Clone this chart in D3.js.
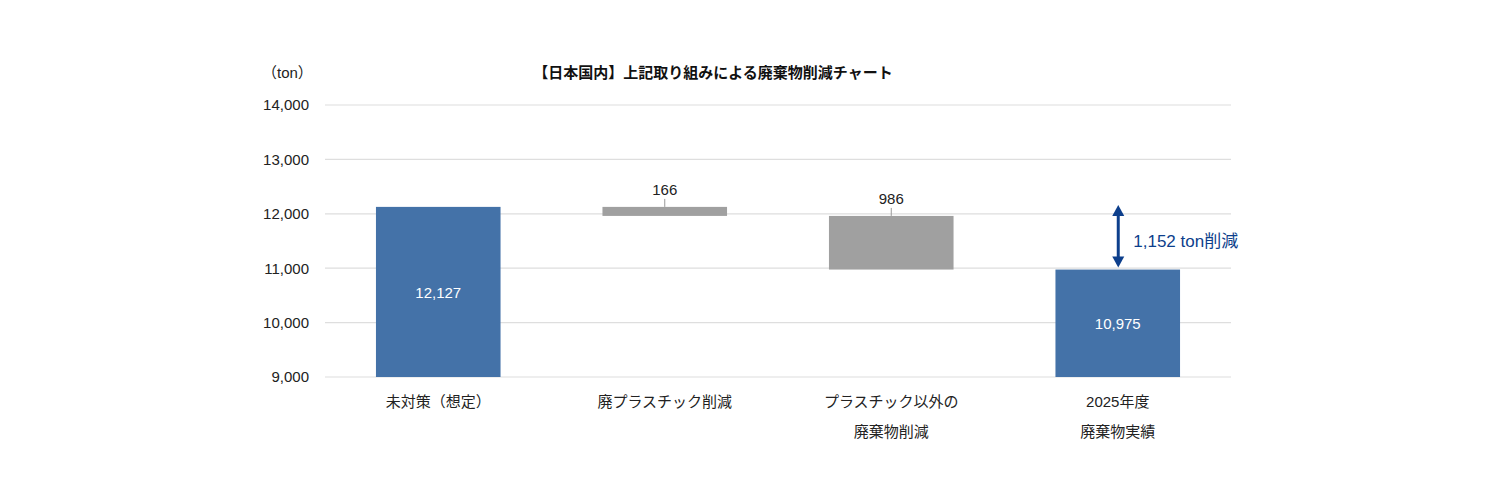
<!DOCTYPE html>
<html>
<head>
<meta charset="utf-8">
<script src="https://cdn.jsdelivr.net/npm/d3@7"></script>
<style>
  body { margin: 0; background: #fff; }
  svg text { font-family: "Liberation Sans", "Noto Sans CJK JP", sans-serif; }
</style>
</head>
<body>
<div id="chart-container"></div>
<script>
const categories = ["未対策（想定）", "廃プラスチック削減", "プラスチック以外の\n廃棄物削減", "2025年度\n廃棄物実績"];
const bases = [9000, 11961, 10975, 9000];
const tops = [12127, 12127, 11961, 10975];
const labels = ["12,127", "166", "986", "10,975"];
const kinds = ["total", "delta", "delta", "total"];
const yTicks = [9000, 10000, 11000, 12000, 13000, 14000];
const reductionText = "1,152 ton削減";

const svgWidth = 1500;
const svgHeight = 499;
const margin = { top: 105, right: 269, bottom: 122, left: 325 };
const width = svgWidth - margin.left - margin.right;
const height = svgHeight - margin.top - margin.bottom;

const svg = d3.select("#chart-container")
    .append("svg")
    .attr("width", svgWidth)
    .attr("height", svgHeight);

const chart = svg.append("g")
    .attr("transform", `translate(${margin.left},${margin.top})`);

const scaleX = d3.scaleBand()
    .domain(categories)
    .range([0, width])
    .paddingInner(0.45)
    .paddingOuter(0.225);

const scaleY = d3.scaleLinear()
    .domain([9000, 14000])
    .range([height, 0]);

// gridlines
chart.selectAll(".grid")
    .data(yTicks)
    .enter()
    .append("line")
    .attr("x1", 0)
    .attr("x2", width)
    .attr("y1", d => scaleY(d))
    .attr("y2", d => scaleY(d))
    .attr("stroke", "#dedede")
    .attr("stroke-width", 1.2);

const yAxis = chart.append("g")
    .call(d3.axisLeft(scaleY).tickValues(yTicks).tickFormat(d3.format(",")).tickSize(0).tickPadding(16));
yAxis.select(".domain").remove();
yAxis.selectAll("text").attr("font-size", "15px").attr("fill", "#222");

// bars
chart.selectAll(".bar")
    .data(categories)
    .enter()
    .append("rect")
    .attr("x", d => scaleX(d))
    .attr("y", (d, i) => scaleY(tops[i]))
    .attr("width", scaleX.bandwidth())
    .attr("height", (d, i) => scaleY(bases[i]) - scaleY(tops[i]))
    .attr("fill", (d, i) => kinds[i] === "total" ? "#4472a8" : "#a0a0a0");

// labels inside totals
chart.selectAll(".inlabel")
    .data(categories.filter((d, i) => kinds[i] === "total"))
    .enter()
    .append("text")
    .attr("x", d => scaleX(d) + scaleX.bandwidth() / 2)
    .attr("y", d => {
        const i = categories.indexOf(d);
        return (scaleY(bases[i]) + scaleY(tops[i])) / 2 + 6;
    })
    .attr("text-anchor", "middle")
    .attr("font-size", "15px")
    .attr("fill", "#fff")
    .text(d => labels[categories.indexOf(d)]);

// labels above deltas with leader lines
categories.forEach(function(d, i) {
    if (kinds[i] !== "delta") return;
    const cx = scaleX(d) + scaleX.bandwidth() / 2;
    const yTop = scaleY(tops[i]);
    chart.append("line")
        .attr("x1", cx).attr("x2", cx)
        .attr("y1", yTop).attr("y2", yTop - 8)
        .attr("stroke", "#999").attr("stroke-width", 1);
    chart.append("text")
        .attr("x", cx)
        .attr("y", yTop - 12)
        .attr("text-anchor", "middle")
        .attr("font-size", "15px")
        .attr("fill", "#222")
        .text(labels[i]);
});

// category labels
categories.forEach(function(d) {
    const lines = d.split("\n");
    lines.forEach(function(line, j) {
        chart.append("text")
            .attr("x", scaleX(d) + scaleX.bandwidth() / 2)
            .attr("y", height + 30 + j * 30)
            .attr("text-anchor", "middle")
            .attr("font-size", "15px")
            .attr("fill", "#222")
            .text(line);
    });
});

// reduction arrow
const last = categories[3];
const ax = scaleX(last) + scaleX.bandwidth() / 2 + 0.5;
const ay1 = scaleY(tops[0]) - 2;
const ay2 = scaleY(tops[3]) - 2;
const arrowColor = "#0d3f8c";
chart.append("line")
    .attr("x1", ax).attr("x2", ax)
    .attr("y1", ay1 + 8).attr("y2", ay2 - 8)
    .attr("stroke", arrowColor).attr("stroke-width", 3);
chart.append("path")
    .attr("d", `M${ax - 6},${ay1 + 11} L${ax},${ay1} L${ax + 6},${ay1 + 11} Z`)
    .attr("fill", arrowColor);
chart.append("path")
    .attr("d", `M${ax - 6},${ay2 - 11} L${ax},${ay2} L${ax + 6},${ay2 - 11} Z`)
    .attr("fill", arrowColor);
chart.append("text")
    .attr("x", ax + 15)
    .attr("y", (ay1 + ay2) / 2 + 11)
    .attr("font-size", "17px")
    .attr("fill", arrowColor)
    .text(reductionText);

// unit and title
svg.append("text")
    .attr("x", 262)
    .attr("y", 78)
    .attr("font-size", "15px")
    .attr("fill", "#222")
    .text("（ton）");

svg.append("text")
    .attr("x", 713)
    .attr("y", 78)
    .attr("text-anchor", "middle")
    .attr("font-size", "15px")
    .attr("font-weight", "bold")
    .attr("fill", "#111")
    .text("【日本国内】上記取り組みによる廃棄物削減チャート");
</script>
</body>
</html>
